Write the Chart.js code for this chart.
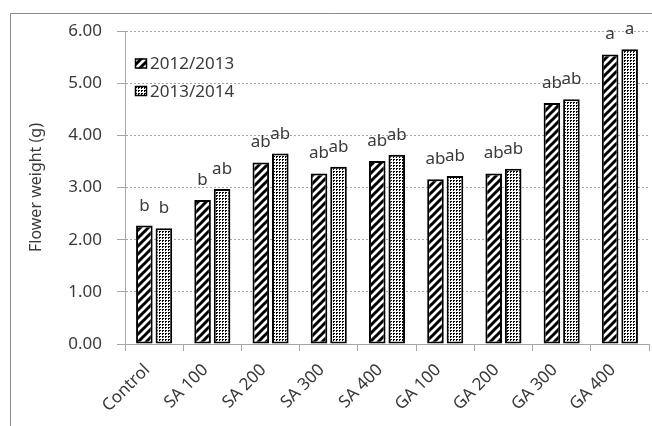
<!DOCTYPE html>
<html>
<head>
<meta charset="utf-8">
<script src="https://cdn.jsdelivr.net/npm/chart.js@4.4.1/dist/chart.umd.min.js"></script>
<style>
  html, body { margin: 0; padding: 0; background: #ffffff; }
  #wrap { width: 652px; height: 426px; position: relative; }
</style>
</head>
<body>
<div id="wrap"><canvas id="c" width="652" height="426"></canvas></div>
<script>
// Flower weight per treatment, two seasons
const categories = ['Control', 'SA 100', 'SA 200', 'SA 300', 'SA 400', 'GA 100', 'GA 200', 'GA 300', 'GA 400'];
const season1Label = '2012/2013';
const season2Label = '2013/2014';
const season1Values = [2.27, 2.76, 3.48, 3.27, 3.51, 3.16, 3.27, 4.62, 5.55];
const season2Values = [2.22, 2.97, 3.65, 3.40, 3.63, 3.22, 3.36, 4.69, 5.65];
// Significance letters above each bar
const season1Letters = ['b', 'b', 'ab', 'ab', 'ab', 'ab', 'ab', 'ab', 'a'];
const season2Letters = ['b', 'ab', 'ab', 'ab', 'ab', 'ab', 'ab', 'ab', 'a'];
const yTickValues = [0, 1, 2, 3, 4, 5, 6];
const yTitle = 'Flower weight (g)';

const FONT = '"Noto Sans", "Open Sans", sans-serif';
const TEXT = '#3a3a3a';
const AXIS = '#a6a6a6';

function stripePattern() {
  const c = document.createElement('canvas');
  c.width = 8; c.height = 8;
  const g = c.getContext('2d');
  g.fillStyle = '#ffffff';
  g.fillRect(0, 0, 8, 8);
  g.strokeStyle = '#000000';
  g.lineWidth = 3;
  g.beginPath();
  g.moveTo(-2, 10); g.lineTo(10, -2);
  g.moveTo(-6, 6); g.lineTo(6, -6);
  g.moveTo(2, 14); g.lineTo(14, 2);
  g.stroke();
  return g.createPattern(c, 'repeat');
}

function dotPattern() {
  const c = document.createElement('canvas');
  c.width = 3; c.height = 3;
  const g = c.getContext('2d');
  g.fillStyle = '#ffffff';
  g.fillRect(0, 0, 3, 3);
  g.fillStyle = '#000000';
  g.fillRect(0, 0, 1, 1);
  g.fillRect(1, 0, 1, 1);
  g.fillRect(0, 1, 1, 1);
  return g.createPattern(c, 'repeat');
}

const stripes = stripePattern();
const dots = dotPattern();

// Outer frame (left and top edges)
const framePlugin = {
  id: 'frame',
  beforeDraw(chart) {
    const ctx = chart.ctx;
    ctx.save();
    ctx.strokeStyle = '#8c8c8c';
    ctx.lineWidth = 1;
    ctx.beginPath();
    ctx.moveTo(10.5, 426);
    ctx.lineTo(10.5, 13.5);
    ctx.lineTo(652, 13.5);
    ctx.stroke();
    ctx.restore();
  }
};

// Letters above each bar
const lettersPlugin = {
  id: 'letters',
  afterDatasetsDraw(chart) {
    const ctx = chart.ctx;
    ctx.save();
    ctx.font = '17px ' + FONT;
    ctx.fillStyle = TEXT;
    ctx.textAlign = 'center';
    ctx.textBaseline = 'alphabetic';
    chart.data.datasets.forEach((ds, di) => {
      const meta = chart.getDatasetMeta(di);
      meta.data.forEach((bar, i) => {
        ctx.fillText(ds.letters[i], bar.x, bar.y - 15);
      });
    });
    ctx.restore();
  }
};

// Legend drawn inside the plot area, top-left
const insideLegendPlugin = {
  id: 'insideLegend',
  afterDraw(chart) {
    const ctx = chart.ctx;
    const rows = [63.5, 91];
    ctx.save();
    ctx.font = '17px ' + FONT;
    ctx.textBaseline = 'middle';
    ctx.textAlign = 'left';
    chart.data.datasets.forEach((ds, di) => {
      const y = rows[di];
      ctx.fillStyle = ds.backgroundColor;
      ctx.fillRect(135, y - 5, 12, 10);
      ctx.strokeStyle = '#000000';
      ctx.lineWidth = 1.5;
      ctx.strokeRect(135.5, y - 4.5, 11, 9);
      ctx.fillStyle = TEXT;
      ctx.fillText(ds.label, 150, y + 1);
    });
    ctx.restore();
  }
};

new Chart(document.getElementById('c'), {
  type: 'bar',
  data: {
    labels: categories,
    datasets: [
      {
        label: season1Label,
        data: season1Values,
        letters: season1Letters,
        backgroundColor: stripes,
        borderColor: '#000000',
        borderWidth: 2,
        borderSkipped: false,
        categoryPercentage: 0.67,
        barPercentage: 0.85
      },
      {
        label: season2Label,
        data: season2Values,
        letters: season2Letters,
        backgroundColor: dots,
        borderColor: '#000000',
        borderWidth: 2,
        borderSkipped: false,
        categoryPercentage: 0.67,
        barPercentage: 0.85
      }
    ]
  },
  options: {
    responsive: false,
    maintainAspectRatio: false,
    devicePixelRatio: 1,
    animation: false,
    layout: { padding: { top: 31, right: 3, left: 0, bottom: 0 } },
    plugins: {
      legend: { display: false },
      tooltip: { enabled: false }
    },
    scales: {
      x: {
        grid: {
          display: true,
          offset: true,
          drawOnChartArea: false,
          drawTicks: true,
          tickLength: 7,
          color: AXIS,
          tickColor: AXIS
        },
        border: { color: AXIS, width: 1 },
        ticks: {
          autoSkip: false,
          maxRotation: 45,
          minRotation: 45,
          padding: 9,
          labelOffset: -7,
          color: TEXT,
          font: { family: FONT, size: 17 }
        },
        afterFit(scale) { scale.height = 82; }
      },
      y: {
        min: 0,
        max: 6,
        afterBuildTicks(scale) {
          scale.ticks = yTickValues.map(v => ({ value: v }));
        },
        ticks: {
          padding: 15,
          color: TEXT,
          font: { family: FONT, size: 17 },
          callback: v => Number(v).toFixed(2)
        },
        grid: {
          color: AXIS,
          tickColor: AXIS,
          tickLength: 8,
          tickBorderDash: []
        },
        border: { color: AXIS, width: 1, dash: [2, 2] },
        title: {
          display: true,
          text: yTitle,
          color: TEXT,
          font: { family: FONT, size: 16 },
          padding: { top: 27, bottom: 0 }
        },
        afterFit(scale) { scale.width = 125; }
      }
    }
  },
  plugins: [framePlugin, lettersPlugin, insideLegendPlugin]
});
</script>
</body>
</html>
